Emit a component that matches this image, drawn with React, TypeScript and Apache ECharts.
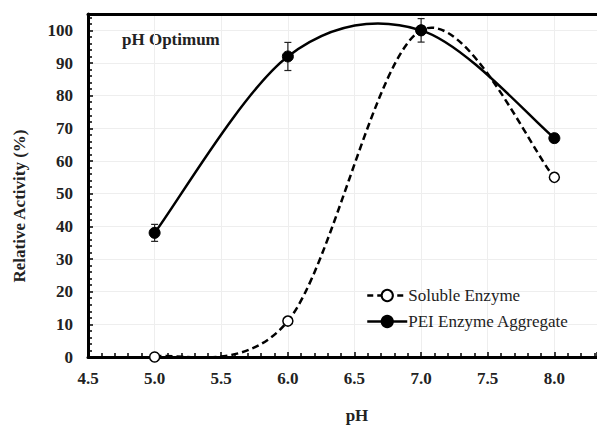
import React, { useEffect, useRef } from "react";
import * as echarts from "echarts";

const phValues = [5.0, 6.0, 7.0, 8.0];
const solubleActivity = [0, 11, 100, 55];
const peiActivity = [38, 92, 100, 67];
const peiError = [2.6, 4.3, 3.6, 0];
const seriesNames = ["Soluble Enzyme", "PEI Enzyme Aggregate"];
const chartTitle = "pH Optimum";
const xTitle = "pH";
const yTitle = "Relative Activity (%)";

const FONT = "Liberation Serif, Times New Roman, Times, serif";

// Excel-like smooth curve (Catmull-Rom style Bezier) through pixel points
function smoothPath(pts: number[][]): string {
  const n = pts.length;
  let d = `M${pts[0][0]},${pts[0][1]}`;
  for (let i = 0; i < n - 1; i++) {
    const p0 = pts[Math.max(i - 1, 0)];
    const p1 = pts[i];
    const p2 = pts[i + 1];
    const p3 = pts[Math.min(i + 2, n - 1)];
    const c1x = p1[0] + (p2[0] - p0[0]) / 6;
    const c1y = p1[1] + (p2[1] - p0[1]) / 6;
    const c2x = p2[0] - (p3[0] - p1[0]) / 6;
    const c2y = p2[1] - (p3[1] - p1[1]) / 6;
    d += ` C${c1x},${c1y} ${c2x},${c2y} ${p2[0]},${p2[1]}`;
  }
  return d;
}

export default function App() {
  const ref = useRef<HTMLDivElement>(null);
  useEffect(() => {
    if (!ref.current) return;
    const chart = echarts.init(ref.current, null, { renderer: "svg" });
    const solubleData = phValues.map((x, i) => [x, solubleActivity[i]]);
    const peiData = phValues.map((x, i) => [x, peiActivity[i]]);
    const errData = phValues
      .map((x, i) => [x, peiActivity[i] - peiError[i], peiActivity[i] + peiError[i]])
      .filter((d, i) => peiError[i] > 0);

    const xLabelFmt = (v: number) =>
      Math.abs(v * 2 - Math.round(v * 2)) > 1e-6 ? "" : v.toFixed(1);

    const curveSeries = (data: number[][], dash: number[] | null, z: number) => ({
      type: "custom",
      z,
      silent: true,
      data,
      renderItem: (params: any, api: any) => {
        if (params.dataIndex !== 0) return { type: "group", children: [] };
        const pts = data.map((p) => api.coord(p));
        return {
          type: "path",
          shape: { pathData: smoothPath(pts) },
          style: {
            fill: "none",
            stroke: "#000",
            lineWidth: 2.5,
            lineDash: dash || undefined,
          },
        };
      },
    });

    chart.setOption({
      animation: false,
      backgroundColor: "#fff",
      grid: { left: 88, right: 0, top: 14, bottom: 68, containLabel: false },
      xAxis: [
        {
          type: "value",
          min: 4.5,
          max: 8.32,
          interval: 0.5,
          axisLine: { show: true, onZero: false, lineStyle: { color: "#000", width: 3 } },
          axisTick: { show: true, inside: true, length: 5, lineStyle: { color: "#000", width: 1.5 } },
          minorTick: { show: true, splitNumber: 5, length: 4, lineStyle: { color: "#000", width: 1.5 } },
          axisLabel: {
            formatter: xLabelFmt,
            fontFamily: FONT,
            fontWeight: "bold",
            fontSize: 17,
            color: "#222",
            margin: 13,
            showMaxLabel: false,
          },
          splitLine: { show: true, lineStyle: { color: "#eeeeee", width: 1 } },
        },
        {
          type: "value",
          position: "top",
          min: 4.5,
          max: 8.32,
          interval: 0.5,
          axisLine: { show: true, onZero: false, lineStyle: { color: "#000", width: 3 } },
          axisTick: { show: false },
          axisLabel: { show: false },
          splitLine: { show: false },
        },
      ],
      yAxis: {
        type: "value",
        min: 0,
        max: 105,
        interval: 10,
        axisLine: { show: true, onZero: false, lineStyle: { color: "#000", width: 3 } },
        axisTick: { show: true, inside: true, length: 5, lineStyle: { color: "#000", width: 1.5 } },
        minorTick: { show: true, splitNumber: 5, length: 4, lineStyle: { color: "#000", width: 1.5 } },
        axisLabel: {
          fontFamily: FONT,
          fontWeight: "bold",
          fontSize: 17,
          color: "#222",
          margin: 15,
          showMaxLabel: false,
          formatter: (v: number) => (v % 10 === 0 ? String(v) : ""),
        },
        splitLine: { show: true, lineStyle: { color: "#eeeeee", width: 1 } },
      },
      legend: {
        left: 361,
        top: 282,
        orient: "vertical",
        itemWidth: 40,
        itemHeight: 14,
        itemGap: 9,
        data: [
          {
            name: seriesNames[0],
            lineStyle: { opacity: 1, width: 2.5, type: [6, 4], color: "#000" },
          },
          {
            name: seriesNames[1],
            lineStyle: { opacity: 1, width: 2.5, type: "solid", color: "#000" },
          },
        ],
        textStyle: { fontFamily: FONT, fontSize: 17, color: "#222", padding: [0, 0, 0, -4] },
      },
      graphic: [
        {
          type: "text",
          left: 122,
          top: 31,
          style: { text: chartTitle, font: `bold 17px ${FONT}`, fill: "#222" },
        },
        {
          type: "text",
          x: 357,
          y: 415,
          style: {
            text: xTitle,
            font: `bold 17px ${FONT}`,
            fill: "#222",
            align: "center",
            verticalAlign: "middle",
          },
        },
        {
          type: "text",
          x: 19,
          y: 206,
          rotation: Math.PI / 2,
          style: {
            text: yTitle,
            font: `bold 17px ${FONT}`,
            fill: "#222",
            align: "center",
            verticalAlign: "middle",
          },
        },
      ],
      series: [
        {
          type: "custom",
          name: "err",
          z: 1,
          silent: true,
          data: errData,
          renderItem: (params: any, api: any) => {
            const x = api.value(0);
            const top = api.coord([x, api.value(2)]);
            const bot = api.coord([x, api.value(1)]);
            const w = 3.5;
            const st = { stroke: "#222", lineWidth: 1.2 };
            return {
              type: "group",
              children: [
                { type: "line", shape: { x1: top[0], y1: top[1], x2: bot[0], y2: bot[1] }, style: st },
                { type: "line", shape: { x1: top[0] - w, y1: top[1], x2: top[0] + w, y2: top[1] }, style: st },
                { type: "line", shape: { x1: bot[0] - w, y1: bot[1], x2: bot[0] + w, y2: bot[1] }, style: st },
              ],
            };
          },
        },
        curveSeries(solubleData, [7, 4], 2),
        curveSeries(peiData, null, 2),
        {
          type: "line",
          name: seriesNames[0],
          z: 3,
          data: solubleData,
          symbol: "circle",
          symbolSize: 10,
          lineStyle: { color: "#000", width: 2.5, opacity: 0 },
          itemStyle: { color: "#fff", borderColor: "#000", borderWidth: 1.5 },
        },
        {
          type: "line",
          name: seriesNames[1],
          z: 4,
          data: peiData,
          symbol: "circle",
          symbolSize: 11,
          lineStyle: { color: "#000", width: 2.5, opacity: 0 },
          itemStyle: { color: "#000", borderColor: "#000", borderWidth: 1 },
        },
      ],
    });
    return () => chart.dispose();
  }, []);
  return (
    <div
      ref={ref}
      style={{ position: "fixed", left: 0, top: 0, width: 597, height: 425 }}
    />
  );
}
